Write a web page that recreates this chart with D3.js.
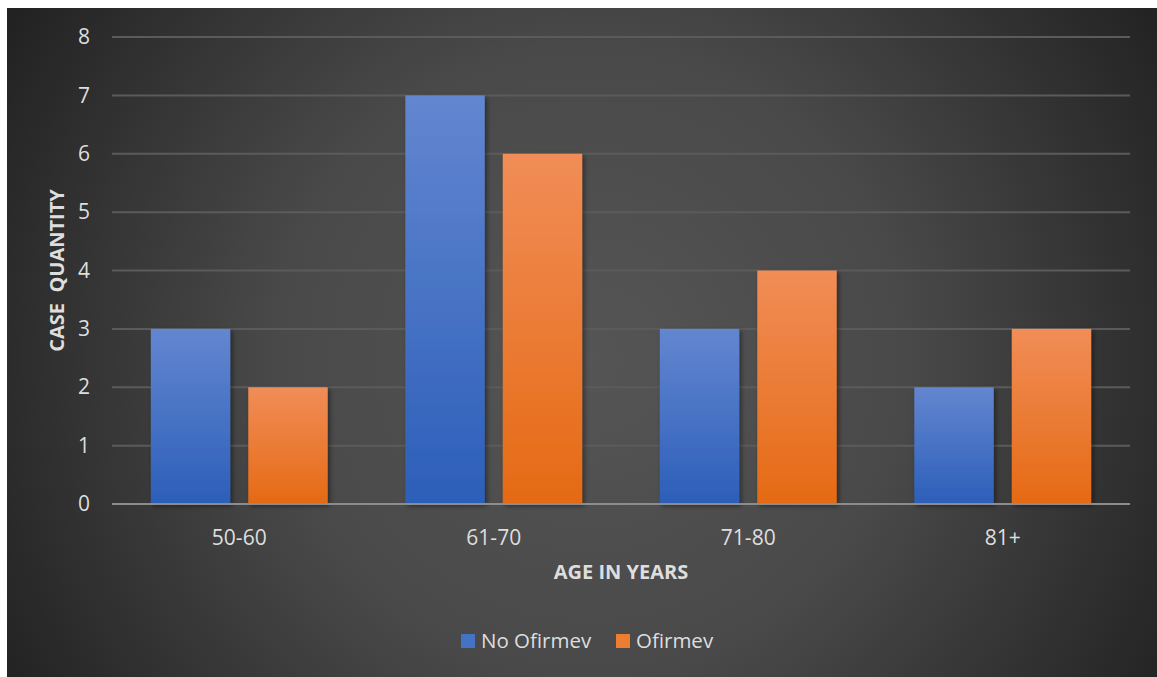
<!DOCTYPE html>
<html><head><meta charset="utf-8">
<script src="https://cdn.jsdelivr.net/npm/d3@7"></script>
<style>html,body{margin:0;padding:0;background:#fff;}svg{display:block;}</style>
</head><body>
<script>
const categories = ["50-60", "61-70", "71-80", "81+"];
const seriesNames = ["No Ofirmev", "Ofirmev"];
const noOfirmev = [3, 7, 3, 2];
const ofirmev = [2, 6, 4, 3];
const yTicks = [0, 1, 2, 3, 4, 5, 6, 7, 8];

const W = 1157, H = 677;
const svg = d3.select("body").append("svg").attr("width", W).attr("height", H);
const defs = svg.append("defs");

const rg = defs.append("radialGradient").attr("id", "bg")
  .attr("gradientUnits", "userSpaceOnUse").attr("cx", 590).attr("cy", 360).attr("r", 700);
rg.append("stop").attr("offset", "0").attr("stop-color", "#555555");
rg.append("stop").attr("offset", "0.45").attr("stop-color", "#494949");
rg.append("stop").attr("offset", "1").attr("stop-color", "#1f1f1f");

function lin(id, top, bot) {
  const g = defs.append("linearGradient").attr("id", id).attr("x1", 0).attr("y1", 0).attr("x2", 0).attr("y2", 1);
  g.append("stop").attr("offset", "0").attr("stop-color", top);
  g.append("stop").attr("offset", "1").attr("stop-color", bot);
}
lin("gBlue", "#6386d0", "#2c5fb9");
lin("gOrange", "#f18d57", "#e56a14");

const f = defs.append("filter").attr("id", "sh").attr("x", "-20%").attr("y", "-20%").attr("width", "140%").attr("height", "140%");
f.append("feDropShadow").attr("dx", 2).attr("dy", 2).attr("stdDeviation", 2.5).attr("flood-color", "#000").attr("flood-opacity", 0.45);

svg.append("rect").attr("x", 7).attr("y", 8).attr("width", W - 7).attr("height", H - 8).attr("fill", "url(#bg)");

const x0 = 112, x1 = 1130, yTop = 37, yBot = 504;
const x = d3.scaleBand().domain(categories).range([x0, x1]).paddingInner(0.305).paddingOuter(0.1525);
const xs = d3.scaleBand().domain(seriesNames).range([0, x.bandwidth()]).paddingInner(0.185);
const y = d3.scaleLinear().domain([0, 8]).range([yBot, yTop]);

const font = "'Open Sans', 'Liberation Sans', sans-serif";
const txt = "#dedede";

// gridlines
svg.append("g").selectAll("line").data(yTicks.filter(d => d > 0)).join("line")
  .attr("x1", x0).attr("x2", x1).attr("y1", d => y(d)).attr("y2", d => y(d))
  .attr("stroke", "#5b5b5b").attr("stroke-width", 2);

// y tick labels via axis
const ya = svg.append("g").attr("transform", `translate(${x0 - 17},0)`)
  .call(d3.axisLeft(y).tickValues(yTicks).tickSize(0).tickPadding(0).tickFormat(d3.format("d")));
ya.select(".domain").remove();
ya.selectAll("text").attr("fill", txt).attr("font-size", 21).attr("font-family", font).attr("text-anchor", "middle").attr("dx", -11);

// bars
const data = categories.map((c, i) => ({ c, vals: [
  { s: seriesNames[0], v: noOfirmev[i], fill: "url(#gBlue)" },
  { s: seriesNames[1], v: ofirmev[i], fill: "url(#gOrange)" }] }));
const gb = svg.append("g");
data.forEach(d => {
  gb.selectAll(null).data(d.vals).join("rect")
    .attr("x", e => x(d.c) + xs(e.s))
    .attr("width", xs.bandwidth())
    .attr("y", e => y(e.v))
    .attr("height", e => y(0) - y(e.v))
    .attr("fill", e => e.fill)
    .attr("filter", "url(#sh)");
});

// zero line
svg.append("line").attr("x1", x0).attr("x2", x1).attr("y1", y(0)).attr("y2", y(0))
  .attr("stroke", "#8c8c8c").attr("stroke-width", 2);

// x axis labels
const xa = svg.append("g").attr("transform", `translate(0,${yBot})`)
  .call(d3.axisBottom(x).tickSize(0).tickPadding(0));
xa.select(".domain").remove();
xa.selectAll("text").attr("fill", txt).attr("font-size", 21).attr("font-family", font).attr("dy", 0).attr("y", 41);

// axis titles
svg.append("text").attr("x", (x0 + x1) / 2).attr("y", 579).attr("text-anchor", "middle")
  .attr("fill", txt).attr("font-size", 20).attr("font-weight", "bold").attr("font-family", font).text("AGE IN YEARS");
svg.append("text").attr("transform", `translate(64,${(yTop + yBot) / 2}) rotate(-90)`).attr("text-anchor", "middle")
  .attr("fill", txt).attr("font-size", 20).attr("font-weight", "bold").attr("font-family", font)
  .attr("xml:space", "preserve").text("CASE  QUANTITY");

// legend
const leg = [{ name: seriesNames[0], color: "#4472c4", x: 461 }, { name: seriesNames[1], color: "#ed7d31", x: 616 }];
const lg = svg.append("g");
leg.forEach(l => {
  lg.append("rect").attr("x", l.x).attr("y", 634).attr("width", 14).attr("height", 14).attr("fill", l.color);
  lg.append("text").attr("x", l.x + 20).attr("y", 648).attr("fill", txt).attr("font-size", 20.5).attr("font-family", font).text(l.name);
});
</script>
</body></html>
